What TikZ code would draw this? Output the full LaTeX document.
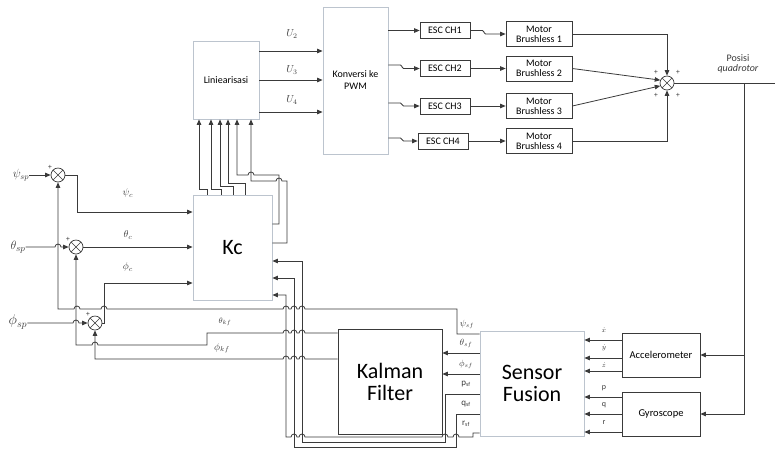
\documentclass[tikz,border=0pt]{standalone}
\usepackage{fontspec}
\setmainfont{Carlito}
\usetikzlibrary{arrows.meta}
\definecolor{wirec}{HTML}{3A3A3A}
\definecolor{lightc}{HTML}{BCC4CE}
\definecolor{darkc}{HTML}{3A3A3A}
\newcommand\hopL[2]{-- (#1+3,#2) arc[start angle=0,end angle=180,radius=3pt]}
\newcommand\hopR[2]{-- (#1-3,#2) arc[start angle=180,end angle=0,radius=3pt]}
\newcommand\fs[1]{\fontsize{#1}{#1}\selectfont}
\begin{document}
\begin{tikzpicture}[x=1pt,y=-1pt,
  wire/.style={draw=wirec, line width=0.8pt},
  arr/.style={wire,-{Triangle[length=5.5pt,width=4.5pt]}},
  lbox/.style={draw=lightc, line width=0.8pt, fill=white, inner sep=0pt, align=center},
  dbox/.style={draw=darkc, line width=0.7pt, fill=white, inner sep=0pt, align=center},
  sumc/.style={circle, draw=wirec, line width=0.7pt, minimum size=14pt, inner sep=0pt, fill=white,
    path picture={\draw[wirec, line width=0.6pt] (path picture bounding box.north west) -- (path picture bounding box.south east) (path picture bounding box.north east) -- (path picture bounding box.south west);}},
  pl/.style={font=\fs{7.5}, inner sep=0pt, text=wirec},
  lab/.style={inner sep=0pt, text=wirec}
]
\useasboundingbox (0,0) rectangle (775,448);

% ---- boxes ----
\node[lbox, minimum width=66pt, minimum height=78pt, font=\fs{10}] (lin) at (226,80) {Liniearisasi};
\node[lbox, minimum width=65pt, minimum height=147pt, font=\fs{10}, align=center] (konv) at (355.5,80.5) {Konversi ke\\[2pt]PWM};
\node[dbox, minimum width=50pt, minimum height=16pt, font=\fs{10}] (esc1) at (445,30.5) {ESC CH1};
\node[dbox, minimum width=50pt, minimum height=16pt, font=\fs{10}] (esc2) at (445,68.5) {ESC CH2};
\node[dbox, minimum width=50pt, minimum height=16pt, font=\fs{10}] (esc3) at (445,106) {ESC CH3};
\node[dbox, minimum width=50pt, minimum height=16pt, font=\fs{10}] (esc4) at (443,141) {ESC CH4};
\node[dbox, minimum width=66pt, minimum height=25pt, font=\fs{10}] (m1) at (539,34) {Motor\\Brushless 1};
\node[dbox, minimum width=66pt, minimum height=25pt, font=\fs{10}] (m2) at (539,68.5) {Motor\\Brushless 2};
\node[dbox, minimum width=66pt, minimum height=25pt, font=\fs{10}] (m3) at (539,106) {Motor\\Brushless 3};
\node[dbox, minimum width=66pt, minimum height=25pt, font=\fs{10}] (m4) at (539,141) {Motor\\Brushless 4};
\node[sumc] (s0) at (667,83) {};
\node[lbox, minimum width=79pt, minimum height=105pt, font=\fs{22}] (kc) at (232.5,247.5) {Kc};
\node[dbox, minimum width=104pt, minimum height=105pt, font=\fs{22}] (kal) at (390,381.5) {Kalman\\Filter};
\node[lbox, minimum width=104pt, minimum height=105pt, font=\fs{22}] (sf) at (532,383.5) {Sensor\\Fusion};
\node[dbox, minimum width=78pt, minimum height=44pt, font=\fs{10.5}] (acc) at (661,355) {Accelerometer};
\node[dbox, minimum width=78pt, minimum height=44pt, font=\fs{10.5}] (gyr) at (661,414) {Gyroscope};
\node[sumc] (sum1) at (58,175) {};
\node[sumc] (sum2) at (76,247) {};
\node[sumc] (sum3) at (95,323) {};

% ---- labels ----
\node[lab, font=\fs{12}] (psisp) at (21,175) {$\psi_{sp}$};
\node[lab, font=\fs{13}] (thsp) at (18,247) {$\theta_{sp}$};
\node[lab, font=\fs{14}] (phsp) at (18,322) {$\phi_{sp}$};
\node[pl] at (50,167) {+};
\node[pl] at (68,239) {+};
\node[pl] at (88,314) {+};
\node[pl] at (656,72) {+};
\node[pl] at (678,72) {+};
\node[pl] at (656,95) {+};
\node[pl] at (678,95) {+};
\node[lab, font=\fs{10}] (u2) at (292,34) {$U_2$};
\node[lab, font=\fs{10}] (u3) at (292,70) {$U_3$};
\node[lab, font=\fs{10}] (u4) at (292,100) {$U_4$};
\node[lab, font=\fs{10}] (psic) at (128,193) {$\psi_c$};
\node[lab, font=\fs{10}] (thc) at (128,235) {$\theta_c$};
\node[lab, font=\fs{10}] (phc) at (128,267) {$\phi_c$};
\node[lab, font=\fs{8}] (thkf) at (225,322) {$\theta_{kf}$};
\node[lab, font=\fs{10}] (phkf) at (222,348) {$\phi_{kf}$};
\node[lab, font=\fs{9}] (psisf) at (467,324) {$\psi_{sf}$};
\node[lab, font=\fs{9}] (thsf) at (466,343) {$\theta_{sf}$};
\node[lab, font=\fs{9}] (phsf) at (466,364) {$\phi_{sf}$};
\node[lab, font=\fs{9}] (psf) at (466,384) {$\mathrm{p}_{\mathrm{sf}}$};
\node[lab, font=\fs{9}] (qsf) at (466,404) {$\mathrm{q}_{\mathrm{sf}}$};
\node[lab, font=\fs{9}] (rsf) at (466,424) {$\mathrm{r}_{\mathrm{sf}}$};
\node[lab, font=\fs{7}] (xd) at (604,330) {$\dot{x}$};
\node[lab, font=\fs{7}] (yd) at (604,348) {$\dot{y}$};
\node[lab, font=\fs{7}] (zd) at (604,365) {$\dot{z}$};
\node[lab, font=\fs{8}] (pl1) at (604,388) {p};
\node[lab, font=\fs{8}] (ql1) at (604,405) {q};
\node[lab, font=\fs{8}] (rl1) at (604,423) {r};
\node[lab, font=\fs{10}, align=center] (pos) at (738,64) {Posisi\\\textit{quadrotor}};

% ---- top chain ----
\draw[arr] (lin.east |- 0,51) -- (konv.west |- 0,51);
\draw[arr] (lin.east |- 0,80) -- (konv.west |- 0,80);
\draw[arr] (lin.east |- 0,112) -- (konv.west |- 0,112);
\draw[arr] (konv.east |- esc1) -- (esc1.west);
\draw[arr, rounded corners=1.5pt] (konv.east |- 0,65) -- (402,65) -- (402,68.5) -- (esc2.west);
\draw[arr, rounded corners=1.5pt] (konv.east |- 0,103) -- (402,103) -- (402,106) -- (esc3.west);
\draw[arr, rounded corners=1.5pt] (konv.east |- 0,138) -- (402,138) -- (402,141) -- (esc4.west);
\draw[arr, rounded corners=1.5pt] (esc1.east) -- (484,30.5) -- (484,34) -- (m1.west);
\draw[arr] (esc2.east) -- (m2.west);
\draw[arr] (esc3.east) -- (m3.west);
\draw[arr] (esc4.east) -- (m4.west);
\draw[arr] (m1.east) -| (s0.north);
\draw[arr] (m2.east) -- (s0.157);
\draw[arr] (m3.east) -- (s0.203);
\draw[arr] (m4.east) -| (s0.south);
\coordinate (out) at (775,83);
\coordinate (fb) at (744,83);
\draw[wire] (s0.east) -- (out);
\draw[arr] (fb) |- (gyr.east);
\draw[arr] (fb |- acc.east) -- (acc.east);

% ---- sensors to fusion ----
\draw[arr] (acc.west |- 0,340) -- (sf.east |- 0,340);
\draw[arr] (acc.west |- 0,358) -- (sf.east |- 0,358);
\draw[arr] (acc.west |- 0,371) -- (sf.east |- 0,371);
\draw[arr] (gyr.west |- 0,397) -- (sf.east |- 0,397);
\draw[arr] (gyr.west |- 0,414) -- (sf.east |- 0,414);
\draw[arr] (gyr.west |- 0,432) -- (sf.east |- 0,432);

% ---- fusion outputs ----
\draw[arr] (sf.west |- 0,334) -- (457,334) -- (457,309) \hopL{302}{309} \hopL{294}{309} \hopL{286}{309} \hopL{104}{309} \hopL{77}{309} -- (58,309) -- (sum1.south);
\draw[arr] (sf.west |- 0,353) -- (kal.east |- 0,353);
\draw[arr] (sf.west |- 0,374) -- (kal.east |- 0,374);
\draw[arr] (sf.west |- 0,394) -- (445,394) -- (445,442) -- (302,442) -- (302,261) -- (kc.east |- 0,261);
\draw[arr] (sf.west |- 0,414) -- (456,414) -- (456,447) -- (294,447) -- (294,278) -- (kc.east |- 0,278);
\draw[arr] (sf.west |- 0,433) -- (473,433) -- (473,437) \hopL{456}{437} \hopL{445}{437} \hopL{302}{437} \hopL{294}{437} -- (286,437) -- (286,295) -- (kc.east |- 0,295);

% ---- kalman outputs ----
\draw[arr] (kal.west |- 0,333) \hopL{302}{333} \hopL{294}{333} \hopL{286}{333} -- (207,333) -- (207,345) \hopL{95}{345} -- (76,345) -- (sum2.south);
\draw[arr] (kal.west |- 0,359) \hopL{302}{359} \hopL{294}{359} \hopL{286}{359} -- (95,359) -- (sum3.south);

% ---- setpoints ----
\draw[arr] (psisp.east) -- (sum1.west);
\draw[arr] (thsp.east) \hopR{58}{247} -- (sum2.west);
\draw[arr] (phsp.east |- sum3) \hopR{76}{323} -- (sum3.west);
\draw[arr] (sum1.east) -| (77,212) -- (kc.west |- 0,212);
\draw[arr] (sum2.east) -- (kc.west |- sum2.east);
\draw[arr] (sum3.east) -| (104,283) -- (kc.west |- 0,283);

% ---- Kc to Liniearisasi ----
\draw[arr] (kc.north -| 207,0) -- (207,189) -- (199,189) -- (lin.south -| 199,0);
\draw[arr] (kc.north -| 221,0) -- (221,189) -- (211,189) -- (lin.south -| 211,0);
\draw[arr] (kc.north -| 233,0) -- (233,186) -- (220,186) -- (lin.south -| 220,0);
\draw[arr] (kc.north -| 245,0) -- (245,183) -- (228,183) -- (lin.south -| 228,0);
\draw[arr] (kc.east |- 0,224) -- (279,224) -- (279,175) \hopL{251}{175} -- (237,175) -- (lin.south -| 237,0);
\draw[arr] (kc.east |- 0,243) -- (287,243) -- (287,181) \hopL{279}{181} -- (251,181) -- (lin.south -| 251,0);
\end{tikzpicture}
\end{document}
